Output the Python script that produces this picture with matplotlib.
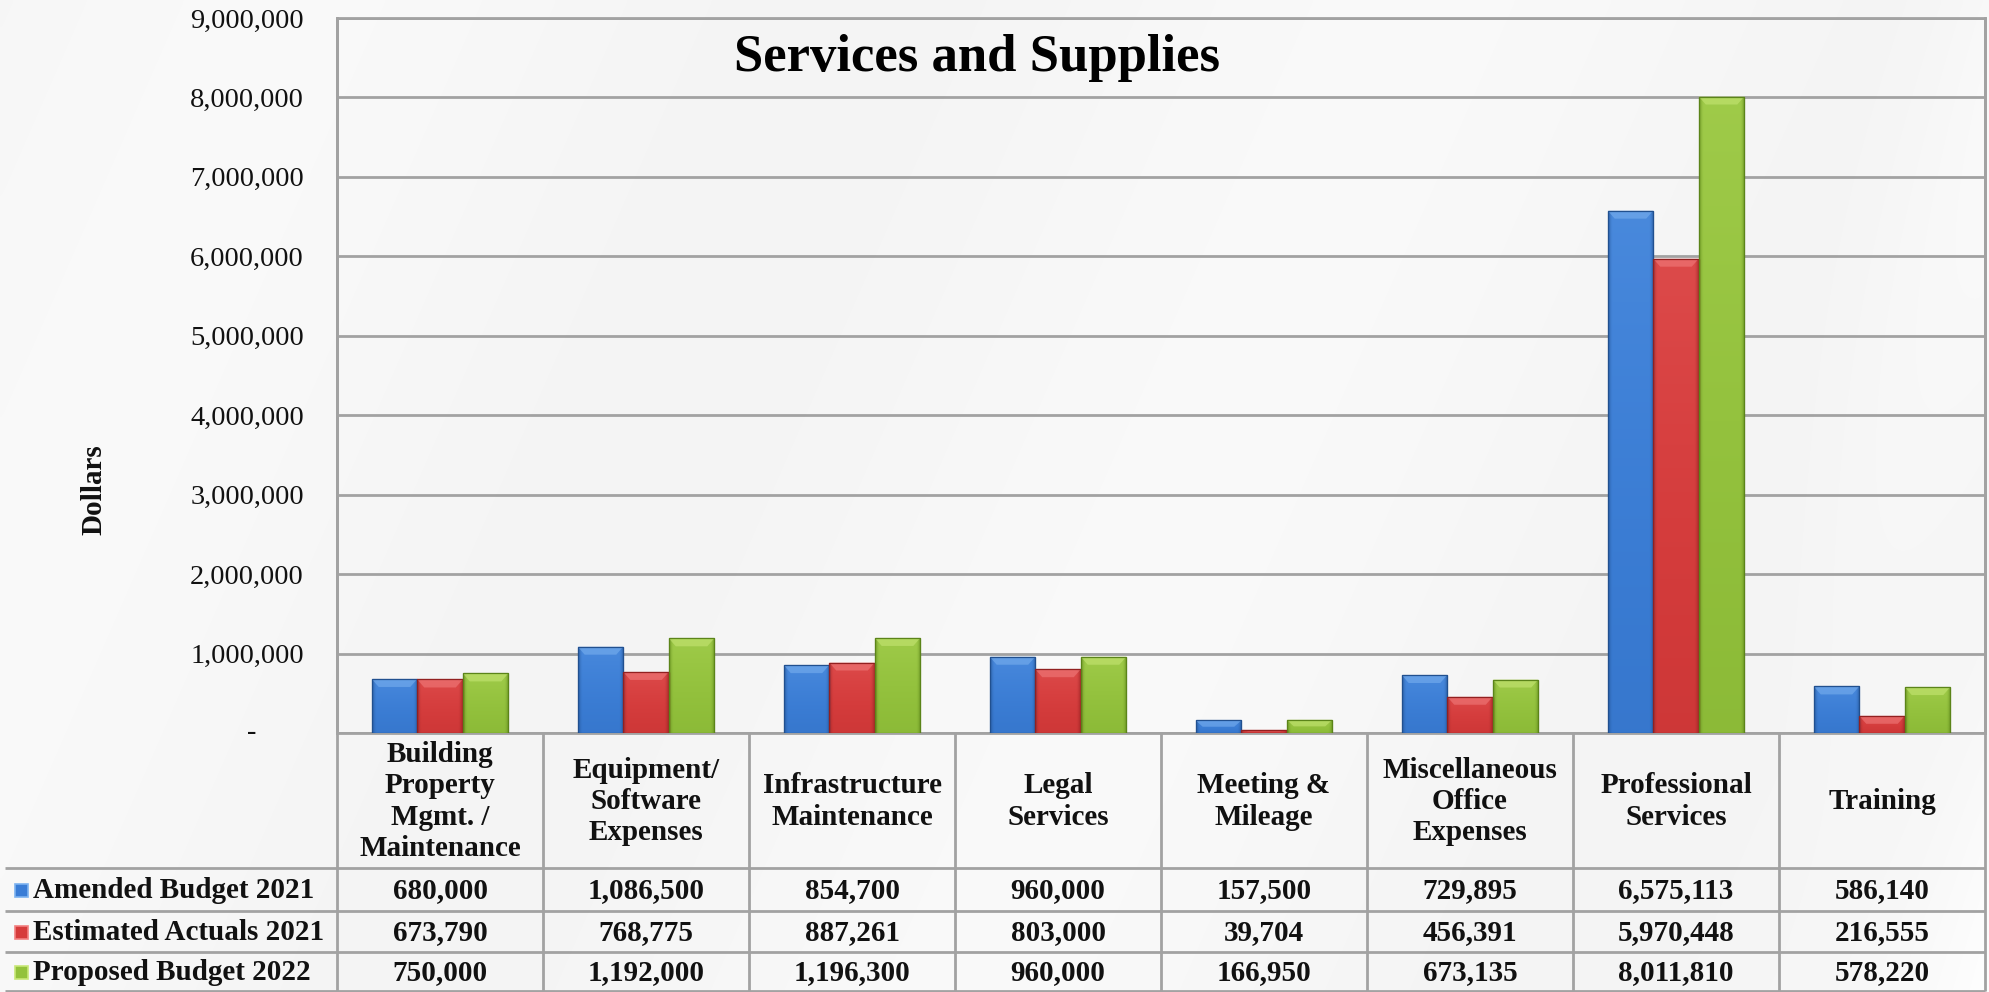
import numpy as np
import matplotlib
matplotlib.use("Agg")
import matplotlib.pyplot as plt
from matplotlib.patches import Rectangle, Polygon
from matplotlib import transforms
from matplotlib.ticker import FuncFormatter

# ---- data -------------------------------------------------------------
categories = [
    "Building\nProperty\nMgmt. /\nMaintenance",
    "Equipment/\nSoftware\nExpenses",
    "Infrastructure\nMaintenance",
    "Legal\nServices",
    "Meeting &\nMileage",
    "Miscellaneous\nOffice\nExpenses",
    "Professional\nServices",
    "Training",
]
series_names = ["Amended Budget 2021", "Estimated Actuals 2021", "Proposed Budget 2022"]
amended_2021 = [680000, 1086500, 854700, 960000, 157500, 729895, 6575113, 586140]
estimated_2021 = [673790, 768775, 887261, 803000, 39704, 456391, 5970448, 216555]
proposed_2022 = [750000, 1192000, 1196300, 960000, 166950, 673135, 8011810, 578220]
y_ticks = [0, 1000000, 2000000, 3000000, 4000000, 5000000, 6000000, 7000000, 8000000, 9000000]
title_text = "Services and Supplies"
y_label = "Dollars"

series_values = [amended_2021, estimated_2021, proposed_2022]

# ---- style ------------------------------------------------------------
FONT = "Liberation Serif"
plt.rcParams["font.family"] = [FONT, "DejaVu Serif"]
base_colors = ["#3a7dd6", "#d63b3b", "#93c23c"]
dark_colors = ["#21508f", "#922020", "#5b8419"]
light_colors = ["#7db3f0", "#f28080", "#c9e878"]
grid_color = "#a2a2a2"

W, H, DPI = 1990, 992, 100
AX_L, AX_R, AX_T, AX_B = 337, 1985, 18, 733
ROW_LINES = [868, 911, 952, 991]
LABEL_X0 = 5

fig = plt.figure(figsize=(W / DPI, H / DPI), dpi=DPI)

# soft light-grey backdrop with faint diagonal sheen
bg = fig.add_axes([0, 0, 1, 1], zorder=-10)
yy, xx = np.mgrid[0:H:4, 0:W:4]
d = (xx * 0.8 + yy * 0.35) / W
sheen = 0.5 + 0.5 * np.sin(d * 2 * np.pi * 2.2)
edge = np.clip((xx - 1780) / 200, 0, 1)
val = 0.958 + 0.02 * sheen + 0.02 * edge * (0.5 + 0.5 * np.sin(d * 40))
img = np.dstack([val, val, val])
bg.imshow(img, extent=(0, 1, 0, 1), aspect="auto", interpolation="bicubic")
bg.set_axis_off()

ax = fig.add_axes([AX_L / W, 1 - AX_B / H, (AX_R - AX_L) / W, (AX_B - AX_T) / H])
ax.set_facecolor("none")

n_cat = len(categories)
x = np.arange(n_cat)
bar_w = 0.221
offsets = [-bar_w, 0.0, bar_w]
px_per_unit_y = (AX_B - AX_T) / y_ticks[-1]
px_per_unit_x = (AX_R - AX_L) / n_cat


def shade_image(base, dark, light):
    """RGBA gradient: darker side edges, lighter towards the top."""
    h, w = 64, 40
    t = np.linspace(0, 1, w)[None, :]
    v = np.linspace(1, 0, h)[:, None]  # 1 at top row of image
    b = np.array(matplotlib.colors.to_rgb(base))
    dk = np.array(matplotlib.colors.to_rgb(dark))
    lt = np.array(matplotlib.colors.to_rgb(light))
    edge_amt = np.clip(1 - np.minimum(t, 1 - t) / 0.09, 0, 1) ** 1.5
    top_amt = 0.22 * v ** 2
    bottom_dark = 0.12 * (1 - v) ** 2
    out = np.empty((h, w, 3))
    for c in range(3):
        col = b[c] * (1 - top_amt) + lt[c] * top_amt
        col = col * (1 - bottom_dark) + dk[c] * bottom_dark
        col = col * (1 - 0.6 * edge_amt) + dk[c] * 0.6 * edge_amt
        out[..., c] = col
    return out


for s, vals in enumerate(series_values):
    bars = ax.bar(x + offsets[s], vals, width=bar_w, color=base_colors[s],
                  edgecolor=dark_colors[s], linewidth=0.8, zorder=3)
    grad = shade_image(base_colors[s], dark_colors[s], light_colors[s])
    for rect in bars:
        x0, w, hgt = rect.get_x(), rect.get_width(), rect.get_height()
        im = ax.imshow(grad, extent=(x0, x0 + w, 0, hgt), aspect="auto",
                       interpolation="bilinear", zorder=3.5)
        im.set_clip_path(rect)
        # bevelled top cap
        cap_h = min(8 / px_per_unit_y, hgt * 0.5)
        inset = 7 / px_per_unit_x
        cap = Polygon([(x0, hgt), (x0 + w, hgt), (x0 + w - inset, hgt - cap_h),
                       (x0 + inset, hgt - cap_h)], closed=True,
                      facecolor=light_colors[s], edgecolor="none", alpha=0.55, zorder=4)
        ax.add_patch(cap)
        ax.add_patch(Rectangle((x0, 0), w, hgt, facecolor="none",
                               edgecolor=dark_colors[s], linewidth=0.9, zorder=4.5))

ax.set_xlim(-0.5, n_cat - 0.5)
ax.set_ylim(0, y_ticks[-1])
ax.set_xticks([])
ax.set_yticks(y_ticks)
ax.yaxis.set_major_formatter(FuncFormatter(lambda v, p: "" if v == 0 else f"{v:,.0f}"))
ax.tick_params(axis="y", length=0, pad=23.8, labelsize=20.5, labelcolor="#111111")
for lab in ax.get_yticklabels():
    lab.set_fontfamily(FONT)
ax.yaxis.grid(True, color=grid_color, linewidth=2.0, zorder=1)
ax.set_axisbelow(True)
for sp in ax.spines.values():
    sp.set_color(grid_color)
    sp.set_linewidth(2.0)

# zero tick drawn as a dash, accounting style
ax.text((252 - AX_L) / (AX_R - AX_L), 0, "-",
        transform=transforms.blended_transform_factory(ax.transAxes, ax.transData),
        ha="center", va="center", fontsize=20.5, color="#111111", clip_on=False)


def fy(py):
    return (AX_B - py) / (AX_B - AX_T)


def fx(px):
    return (px - AX_L) / (AX_R - AX_L)


bt = transforms.blended_transform_factory(ax.transData, ax.transAxes)
line_kw = dict(color=grid_color, linewidth=2.0, clip_on=False, zorder=2,
               solid_capstyle="butt")

# data table grid
for py in ROW_LINES:
    ax.plot([fx(LABEL_X0), 1], [fy(py), fy(py)], transform=ax.transAxes, **line_kw)
for i in range(n_cat + 1):
    xb = i - 0.5
    top = 1 if i in (0, n_cat) else 0
    ax.plot([xb, xb], [fy(991), top], transform=bt, **line_kw)

txt_kw = dict(fontsize=21, fontweight="bold", color="#111111", clip_on=False,
              family=FONT)

# category header cells
header_mid = fy((AX_B + ROW_LINES[0]) / 2 + 1)
for i, cat in enumerate(categories):
    ax.text(i, header_mid, cat, transform=bt, ha="center", va="center",
            multialignment="center", linespacing=1.2, **txt_kw)

# value rows with legend keys
row_bounds = ROW_LINES
for s, vals in enumerate(series_values):
    mid_px = (row_bounds[s] + row_bounds[s + 1]) / 2 + 1
    mid = fy(mid_px)
    ax.add_patch(Rectangle((fx(15), fy(mid_px + 6.5)), fx(28) - fx(15),
                           fy(mid_px - 6.5) - fy(mid_px + 6.5),
                           transform=ax.transAxes, facecolor=base_colors[s],
                           edgecolor=light_colors[s], linewidth=1.2, clip_on=False, zorder=5))
    ax.text(fx(33), mid, series_names[s], transform=ax.transAxes, ha="left",
            va="center", **txt_kw)
    for i, v in enumerate(vals):
        ax.text(i, mid, f"{v:,.0f}", transform=bt, ha="center", va="center", **txt_kw)

fig.text(94 / W, 1 - 490 / H, y_label, rotation=90, ha="center", va="center",
         fontsize=21, fontweight="bold", color="#111111", family=FONT)
fig.text(977 / W, 1 - 71 / H, title_text, ha="center", va="baseline",
         fontsize=38, fontweight="bold", color="#000000", family=FONT)

fig.savefig("out.png", dpi=DPI)
